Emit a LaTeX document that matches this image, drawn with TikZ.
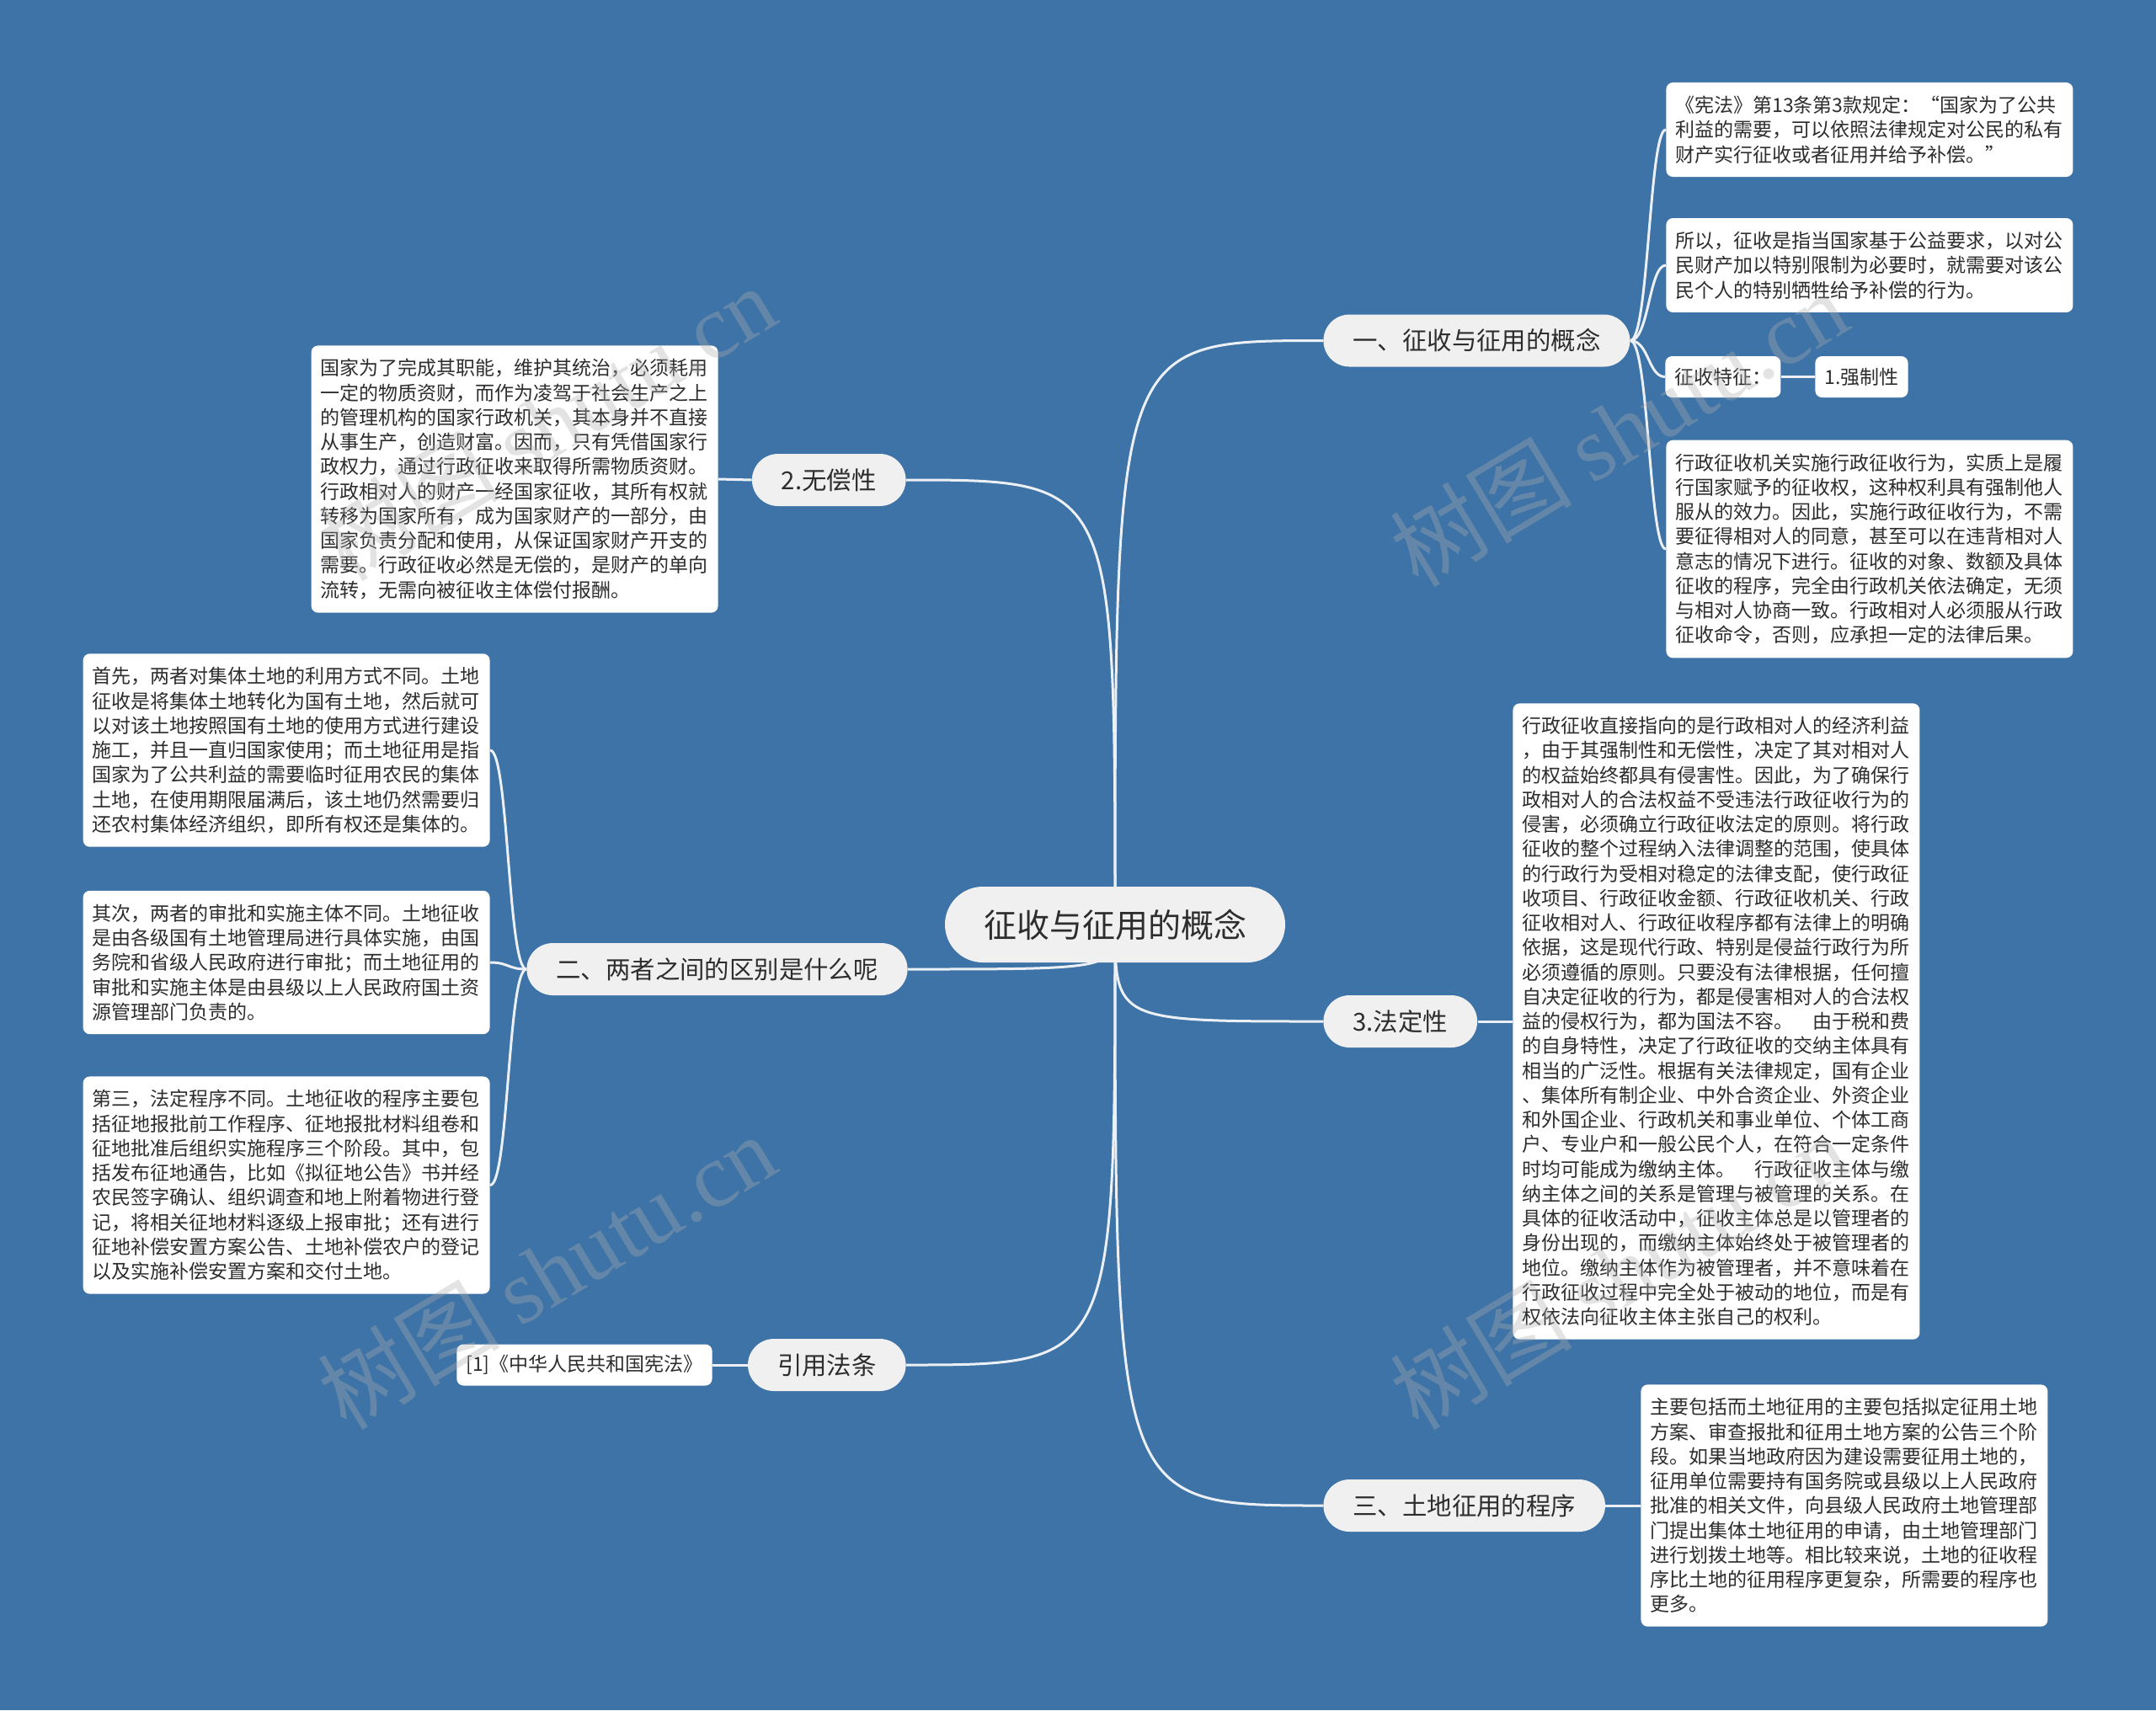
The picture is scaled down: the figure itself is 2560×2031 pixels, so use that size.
\documentclass[tikz,border=0pt]{standalone}
\usepackage{fontspec}
\setmainfont{Noto Sans CJK SC}
\newfontfamily\wmserif{Liberation Serif}
\usetikzlibrary{calc}
\definecolor{bgblue}{RGB}{61,115,166}
\definecolor{pillgray}{RGB}{240,240,240}
\definecolor{txt}{RGB}{45,45,45}
\definecolor{linecol}{RGB}{236,240,244}
\definecolor{wm}{RGB}{175,175,175}
\pgfdeclarelayer{bglayer}
\pgfdeclarelayer{linelayer}
\pgfsetlayers{bglayer,linelayer,main}
\newcommand\leaffont{\fontsize{11.5pt}{14.625pt}\selectfont}
\newcommand\branchfont{\fontsize{14.7pt}{17pt}\selectfont}
\newcommand\rootfont{\fontsize{19.5pt}{22pt}\selectfont}
\newcommand\wmfont{\fontsize{54pt}{60pt}\selectfont}
\begin{document}
\begin{tikzpicture}[x=0.5pt,y=-0.5pt,
  leaf/.style={fill=white, rounded corners=4pt, text=txt, font=\leaffont, align=left, text width=230.5pt, inner xsep=5.5pt, inner ysep=8pt},
  leafshort/.style={fill=white, rounded corners=4pt, text=txt, font=\leaffont, inner xsep=5.5pt, minimum height=24.5pt},
  pill/.style={fill=pillgray, rounded corners=15.5pt, text=txt, font=\branchfont, inner xsep=17.5pt, minimum height=31pt},
  rootnode/.style={fill=pillgray, rounded corners=22.5pt, text=txt, font=\rootfont, inner xsep=23pt, minimum height=45pt},
  conn/.style={draw=linecol, line width=1.5pt},
  wmark/.style={text=wm, text opacity=0.35, font=\wmfont, rotate=31}]
\begin{pgfonlayer}{bglayer}
\fill[bgblue] (0,0) rectangle (2560,2031);
\end{pgfonlayer}
\path[use as bounding box] (0,0) rectangle (2560,2031);

% root and branches
\node[rootnode] (c) at (1324,1098) {征收与征用的概念};
\node[pill, anchor=west] (n1) at (1571,404.5) {一、征收与征用的概念};
\node[pill, anchor=east] (n2) at (1076,570) {2.无偿性};
\node[pill, anchor=east] (n3) at (1078,1151) {二、两者之间的区别是什么呢};
\node[pill, anchor=west] (n4) at (1571,1213) {3.法定性};
\node[pill, anchor=east] (n5) at (1076,1621) {引用法条};
\node[pill, anchor=west] (n6) at (1571,1788) {三、土地征用的程序};

% leaves
\node[leaf, anchor=west] (a1) at (1978,154) {《宪法》第13条第3款规定：“国家为了公共\\利益的需要，可以依照法律规定对公民的私有\\财产实行征收或者征用并给予补偿。”};
\node[leaf, anchor=west] (a2) at (1978,315) {所以，征收是指当国家基于公益要求，以对公\\民财产加以特别限制为必要时，就需要对该公\\民个人的特别牺牲给予补偿的行为。};
\node[leafshort, anchor=west] (a3) at (1977,447.5) {征收特征：};
\node[leafshort, anchor=west] (a3b) at (2155,447.5) {1.强制性};
\node[leaf, anchor=west] (a4) at (1978,652) {行政征收机关实施行政征收行为，实质上是履\\行国家赋予的征收权，这种权利具有强制他人\\服从的效力。因此，实施行政征收行为，不需\\要征得相对人的同意，甚至可以在违背相对人\\意志的情况下进行。征收的对象、数额及具体\\征收的程序，完全由行政机关依法确定，无须\\与相对人协商一致。行政相对人必须服从行政\\征收命令，否则，应承担一定的法律后果。};
\node[leaf, anchor=east] (b) at (853,569) {国家为了完成其职能，维护其统治，必须耗用\\一定的物质资财，而作为凌驾于社会生产之上\\的管理机构的国家行政机关，其本身并不直接\\从事生产，创造财富。因而，只有凭借国家行\\政权力，通过行政征收来取得所需物质资财。\\行政相对人的财产一经国家征收，其所有权就\\转移为国家所有，成为国家财产的一部分，由\\国家负责分配和使用，从保证国家财产开支的\\需要。行政征收必然是无偿的，是财产的单向\\流转，无需向被征收主体偿付报酬。};
\node[leaf, anchor=east] (c1) at (582,891) {首先，两者对集体土地的利用方式不同。土地\\征收是将集体土地转化为国有土地，然后就可\\以对该土地按照国有土地的使用方式进行建设\\施工，并且一直归国家使用；而土地征用是指\\国家为了公共利益的需要临时征用农民的集体\\土地，在使用期限届满后，该土地仍然需要归\\还农村集体经济组织，即所有权还是集体的。};
\node[leaf, anchor=east] (c2) at (582,1143) {其次，两者的审批和实施主体不同。土地征收\\是由各级国有土地管理局进行具体实施，由国\\务院和省级人民政府进行审批；而土地征用的\\审批和实施主体是由县级以上人民政府国土资\\源管理部门负责的。};
\node[leaf, anchor=east] (c3) at (582,1407.5) {第三，法定程序不同。土地征收的程序主要包\\括征地报批前工作程序、征地报批材料组卷和\\征地批准后组织实施程序三个阶段。其中，包\\括发布征地通告，比如《拟征地公告》书并经\\农民签字确认、组织调查和地上附着物进行登\\记，将相关征地材料逐级上报审批；还有进行\\征地补偿安置方案公告、土地补偿农户的登记\\以及实施补偿安置方案和交付土地。};
\node[leaf, anchor=west] (d) at (1796,1213) {行政征收直接指向的是行政相对人的经济利益\\，由于其强制性和无偿性，决定了其对相对人\\的权益始终都具有侵害性。因此，为了确保行\\政相对人的合法权益不受违法行政征收行为的\\侵害，必须确立行政征收法定的原则。将行政\\征收的整个过程纳入法律调整的范围，使具体\\的行政行为受相对稳定的法律支配，使行政征\\收项目、行政征收金额、行政征收机关、行政\\征收相对人、行政征收程序都有法律上的明确\\依据，这是现代行政、特别是侵益行政行为所\\必须遵循的原则。只要没有法律根据，任何擅\\自决定征收的行为，都是侵害相对人的合法权\\益的侵权行为，都为国法不容。\hspace{1em}由于税和费\\的自身特性，决定了行政征收的交纳主体具有\\相当的广泛性。根据有关法律规定，国有企业\\、集体所有制企业、中外合资企业、外资企业\\和外国企业、行政机关和事业单位、个体工商\\户、专业户和一般公民个人，在符合一定条件\\时均可能成为缴纳主体。\hspace{1em}行政征收主体与缴\\纳主体之间的关系是管理与被管理的关系。在\\具体的征收活动中，征收主体总是以管理者的\\身份出现的，而缴纳主体始终处于被管理者的\\地位。缴纳主体作为被管理者，并不意味着在\\行政征收过程中完全处于被动的地位，而是有\\权依法向征收主体主张自己的权利。};
\node[leafshort, anchor=east] (e) at (846,1621) {[1]《中华人民共和国宪法》};
\node[leaf, anchor=west] (f) at (1948,1788) {主要包括而土地征用的主要包括拟定征用土地\\方案、审查报批和征用土地方案的公告三个阶\\段。如果当地政府因为建设需要征用土地的，\\征用单位需要持有国务院或县级以上人民政府\\批准的相关文件，向县级人民政府土地管理部\\门提出集体土地征用的申请，由土地管理部门\\进行划拨土地等。相比较来说，土地的征收程\\序比土地的征用程序更复杂，所需要的程序也\\更多。};

\begin{pgfonlayer}{linelayer}
\draw[conn] (c.center) .. controls (c.center |- n1.west) .. (n1.west);
\draw[conn] (c.center) .. controls (c.center |- n2.east) .. (n2.east);
\draw[conn] (c.center) .. controls (c.center |- n3.east) .. (n3.east);
\draw[conn] (c.center) .. controls (c.center |- n4.west) .. (n4.west);
\draw[conn] (c.center) .. controls (c.center |- n5.east) .. (n5.east);
\draw[conn] (c.center) .. controls (c.center |- n6.west) .. (n6.west);
\draw[conn] (n1.east) .. controls +(22,0) and +(-20,0) .. (a1.west);
\draw[conn] (n1.east) .. controls +(22,0) and +(-20,0) .. (a2.west);
\draw[conn] (n1.east) .. controls +(22,0) and +(-20,0) .. (a3.west);
\draw[conn] (n1.east) .. controls +(22,0) and +(-20,0) .. (a4.west);
\draw[conn] (a3.east) -- (a3b.west);
\draw[conn] (n2.west) -- (b.east);
\draw[conn] (n3.west) .. controls +(-22,0) and +(22,0) .. (c1.east);
\draw[conn] (n3.west) .. controls +(-22,0) and +(22,0) .. (c2.east);
\draw[conn] (n3.west) .. controls +(-22,0) and +(22,0) .. (c3.east);
\draw[conn] (n4.east) -- (d.west);
\draw[conn] (n5.west) -- (e.east);
\draw[conn] (n6.east) -- (f.west);
\end{pgfonlayer}

% watermarks
\node[wmark] (w1) at (649,502) {树图 {\wmserif shutu.cn}};
\node[wmark] (w2) at (1922,509) {树图 {\wmserif shutu.cn}};
\node[wmark] (w3) at (649,1510) {树图 {\wmserif shutu.cn}};
\node[wmark] (w4) at (1922,1510) {树图 {\wmserif shutu.cn}};
\end{tikzpicture}
\end{document}
